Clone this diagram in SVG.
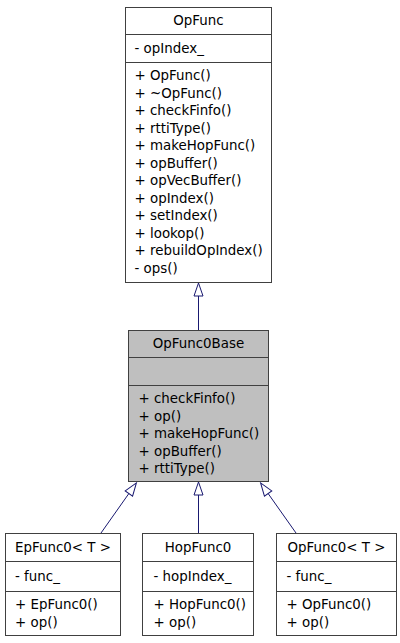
<svg xmlns="http://www.w3.org/2000/svg" width="400" height="643" viewBox="0 0 400 643">
<style>
.box{fill:#ffffff;stroke:#404040;stroke-width:1}
.base{fill:#bfbfbf}
.div{stroke:#404040;stroke-width:1}
text{font-family:"DejaVu Sans","Liberation Sans",sans-serif;font-size:13.4px;fill:#000000}
.t{text-anchor:middle}
.edge{stroke:#191970;stroke-width:1;fill:none}
</style>
<defs>
<marker id="inh" markerUnits="userSpaceOnUse" markerWidth="16" markerHeight="12" refX="0" refY="6" orient="auto" overflow="visible">
<path d="M0,1.5 L13,6 L0,10.5 Z" fill="#ffffff" stroke="#191970" stroke-width="1"/>
</marker>
</defs>
<g id="connectors">
<line class="edge" x1="198.5" y1="330" x2="198.5" y2="296" marker-end="url(#inh)"/>
<line class="edge" x1="101" y1="533" x2="128.9" y2="493.5" marker-end="url(#inh)"/>
<line class="edge" x1="198.5" y1="533" x2="198.5" y2="495" marker-end="url(#inh)"/>
<line class="edge" x1="296" y1="533" x2="268.1" y2="493.5" marker-end="url(#inh)"/>
</g>
<g id="OpFunc">
<rect class="box" x="125.5" y="7.5" width="146" height="275"/>
<line class="div" x1="125.5" y1="34.5" x2="271.5" y2="34.5"/>
<line class="div" x1="125.5" y1="62.5" x2="271.5" y2="62.5"/>
<text class="t" x="198.5" y="25">OpFunc</text>
<text x="134.5" y="52.5">- opIndex_</text>
<text x="134.5" y="80.3">+ OpFunc()</text>
<text x="134.5" y="97.8">+ ~OpFunc()</text>
<text x="134.5" y="115.3">+ checkFinfo()</text>
<text x="134.5" y="132.8">+ rttiType()</text>
<text x="134.5" y="150.3">+ makeHopFunc()</text>
<text x="134.5" y="167.8">+ opBuffer()</text>
<text x="134.5" y="185.3">+ opVecBuffer()</text>
<text x="134.5" y="202.8">+ opIndex()</text>
<text x="134.5" y="220.3">+ setIndex()</text>
<text x="134.5" y="237.8">+ lookop()</text>
<text x="134.5" y="255.3">+ rebuildOpIndex()</text>
<text x="134.5" y="272.8">- ops()</text>
</g>
<g id="OpFunc0Base">
<rect class="box base" x="128.5" y="330.5" width="140" height="151"/>
<line class="div" x1="128.5" y1="357.5" x2="268.5" y2="357.5"/>
<line class="div" x1="128.5" y1="385.5" x2="268.5" y2="385.5"/>
<text class="t" x="198.5" y="348">OpFunc0Base</text>
<text x="138.5" y="403.3">+ checkFinfo()</text>
<text x="138.5" y="420.8">+ op()</text>
<text x="138.5" y="438.3">+ makeHopFunc()</text>
<text x="138.5" y="455.8">+ opBuffer()</text>
<text x="138.5" y="473.3">+ rttiType()</text>
</g>
<g id="EpFunc0">
<rect class="box" x="5.5" y="533.5" width="115" height="102"/>
<line class="div" x1="5.5" y1="561.5" x2="120.5" y2="561.5"/>
<line class="div" x1="5.5" y1="591.5" x2="120.5" y2="591.5"/>
<text class="t" x="63" y="551.5">EpFunc0&lt; T &gt;</text>
<text x="15" y="580.5">- func_</text>
<text x="15" y="609.3">+ EpFunc0()</text>
<text x="15" y="626.8">+ op()</text>
</g>
<g id="HopFunc0">
<rect class="box" x="142.5" y="533.5" width="111" height="102"/>
<line class="div" x1="142.5" y1="561.5" x2="253.5" y2="561.5"/>
<line class="div" x1="142.5" y1="591.5" x2="253.5" y2="591.5"/>
<text class="t" x="198" y="551.5">HopFunc0</text>
<text x="153.5" y="580.5">- hopIndex_</text>
<text x="153.5" y="609.3">+ HopFunc0()</text>
<text x="153.5" y="626.8">+ op()</text>
</g>
<g id="OpFunc0">
<rect class="box" x="276.5" y="533.5" width="120" height="102"/>
<line class="div" x1="276.5" y1="561.5" x2="396.5" y2="561.5"/>
<line class="div" x1="276.5" y1="591.5" x2="396.5" y2="591.5"/>
<text class="t" x="336.5" y="551.5">OpFunc0&lt; T &gt;</text>
<text x="286.5" y="580.5">- func_</text>
<text x="286.5" y="609.3">+ OpFunc0()</text>
<text x="286.5" y="626.8">+ op()</text>
</g>
</svg>
